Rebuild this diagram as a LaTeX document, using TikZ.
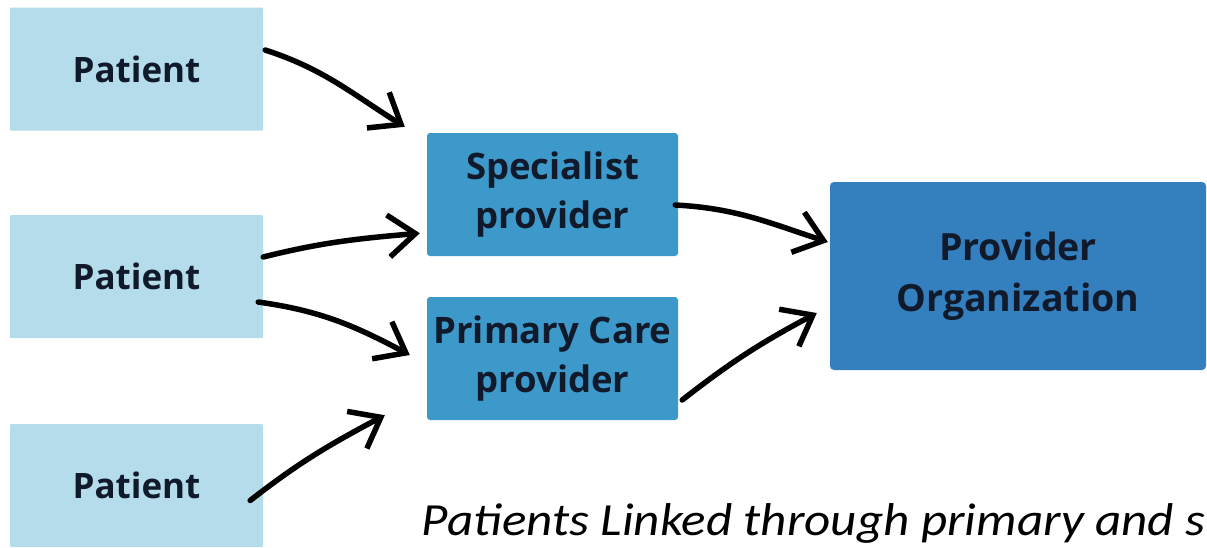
\documentclass[tikz,border=0pt]{standalone}
\usepackage{fontspec}
\setmainfont{Open Sans}
\newfontfamily\capfont{Carlito}
\usetikzlibrary{arrows.meta, positioning}
\definecolor{patblue}{RGB}{180,220,235}
\definecolor{provblue}{RGB}{62,153,203}
\definecolor{orgblue}{RGB}{52,127,190}
\definecolor{inkblue}{RGB}{16,26,42}

\begin{document}
\begin{tikzpicture}[x=1pt, y=-1pt,
    patbox/.style={rectangle, fill=patblue, rounded corners=1pt, minimum width=253pt, minimum height=123pt,
        text=inkblue, font=\bfseries\fontsize{35}{49}\selectfont},
    provbox/.style={rectangle, fill=provblue, rounded corners=3pt, minimum width=251pt, minimum height=123pt,
        align=center, text=inkblue, font=\bfseries\fontsize{36.5}{49}\selectfont},
    orgbox/.style={rectangle, fill=orgblue, rounded corners=4pt, minimum width=376pt, minimum height=188pt,
        align=center, text=inkblue, font=\bfseries\fontsize{37.5}{51}\selectfont},
    link/.style={line width=5.5pt, line cap=round, -{Straight Barb[length=27pt, width=42pt]}}]
    \useasboundingbox (0, 0) rectangle (1207, 547);
    \node[patbox] (p1) at (136.5, 69) {Patient};
    \node[patbox] (p2) at (136.5, 276.5) {Patient};
    \node[patbox] (p3) at (136.5, 485.5) {Patient};
    \node[provbox] (spec) at (552.5, 194.5) {Specialist\\provider};
    \node[provbox] (prim) at (552.5, 358.5) {Primary Care\\provider};
    \node[orgbox] (org) at (1018, 276) {Provider\\Organization};
    \node[anchor=base west, xscale=1.11, transform shape, font=\capfont\itshape\fontsize{46}{50}\selectfont] (cap) at (418, 535)
        {Patients Linked through primary and s};
    \draw[link] ([xshift=2pt, yshift=19pt]p1.east) to[out=-18, in=148] ([xshift=-22pt, yshift=6pt]spec.north west);
    \draw[link] ([yshift=19.5pt]p2.east) to[out=14, in=185] ([xshift=-7pt, yshift=23pt]spec.south west);
    \draw[link] ([xshift=-5pt, yshift=-25.5pt]p2.east) to[out=-8, in=152] ([xshift=-17pt, yshift=3.5pt]prim.west);
    \draw[link] ([xshift=-13pt, yshift=-15pt]p3.east) to[out=38, in=208] ([xshift=-42pt, yshift=5pt]prim.south west);
    \draw[link] ([xshift=-3pt, yshift=-10.5pt]spec.east) to[out=-3, in=162] ([xshift=-2pt, yshift=34pt]org.west);
    \draw[link] ([xshift=4pt, yshift=-41.5pt]prim.east) to[out=38, in=208] ([xshift=-13pt, yshift=-37pt]org.west);
\end{tikzpicture}
\end{document}
